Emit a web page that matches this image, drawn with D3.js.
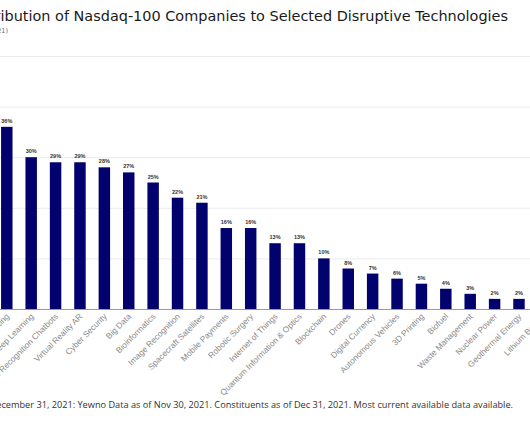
<!DOCTYPE html>
<html><head><meta charset="utf-8">
<script src="https://cdn.jsdelivr.net/npm/d3@7"></script>
<style>html,body{margin:0;padding:0;background:#fff;overflow:hidden}</style>
</head><body>
<svg id="c" width="530" height="443"></svg>
<script>
const categories = ["Cloud Computing","Deep Learning","Speech Recognition Chatbots","Virtual Reality AR","Cyber Security","Big Data","Bioinformatics","Image Recognition","Spacecraft Satellites","Mobile Payments","Robotic Surgery","Internet of Things","Quantum Information & Optics","Blockchain","Drones","Digital Currency","Autonomous Vehicles","3D Printing","Biofuel","Waste Management","Nuclear Power","Geothermal Energy","Lithium Battery","Solar Energy"];
const values = [36,30,29,29,28,27,25,22,21,16,16,13,13,10,8,7,6,5,4,3,2,2,2,1];
const gridTicks = [0,10,20,30,40,50];
const titleText = "Figure 1: Contribution of Nasdaq-100 Companies to Selected Disruptive Technologies";
const subtitleText = "(As of December 31, 2021)";
const footerText = "Source: Nasdaq Global Indexes, as of December 31, 2021: Yewno Data as of Nov 30, 2021. Constituents as of Dec 31, 2021. Most current available data available.";

const svg = d3.select("#c");
const step = 24.39, x0 = -5.4;
const x = d3.scaleBand().domain(categories).range([x0, x0 + step*categories.length]).paddingInner(0.53).paddingOuter(0.265);
const y = d3.scaleLinear().domain([0,50]).range([309,56]);

svg.append("g").selectAll("line").data(gridTicks.slice(1)).join("line")
  .attr("x1",0).attr("x2",530).attr("y1",d=>y(d)+0.5).attr("y2",d=>y(d)+0.5)
  .attr("stroke","#ebebeb").attr("stroke-width",1);

svg.append("g").selectAll("rect").data(values).join("rect")
  .attr("x",(d,i)=>x(categories[i])).attr("width",x.bandwidth())
  .attr("y",d=>y(d)).attr("height",d=>y(0)-y(d))
  .attr("fill","#02026e");

svg.append("line").attr("x1",0).attr("x2",530).attr("y1",y(0)+0.5).attr("y2",y(0)+0.5)
  .attr("stroke","#9a9a9a").attr("stroke-width",1);

svg.append("g").selectAll("text").data(values).join("text")
  .attr("x",(d,i)=>x(categories[i])+x.bandwidth()/2).attr("y",d=>y(d)-4)
  .attr("text-anchor","middle").attr("font-family","Liberation Sans, Arial, sans-serif")
  .attr("font-size",5.5).attr("font-weight","bold").attr("fill","#333")
  .text(d=>d+"%");

svg.append("g").selectAll("text").data(categories).join("text")
  .attr("transform",d=>`translate(${x(d)+x.bandwidth()/2+3},${317}) rotate(-45)`)
  .attr("text-anchor","end").attr("font-family","Liberation Sans, Arial, sans-serif")
  .attr("font-size",8.3).attr("fill","#8a8a8a").text(d=>d);

svg.append("text").attr("x",508).attr("y",21).attr("text-anchor","end")
  .attr("font-family","DejaVu Sans, sans-serif").attr("font-size",14.45).attr("fill","#1a1a1a").text(titleText);
svg.append("text").attr("x",8).attr("y",33).attr("text-anchor","end")
  .attr("font-family","DejaVu Sans, sans-serif").attr("font-size",6.5).attr("fill","#666").text(subtitleText);
svg.append("text").attr("x",513).attr("y",408).attr("text-anchor","end")
  .attr("font-family","Open Sans, sans-serif").attr("font-size",9.2).attr("fill","#333").text(footerText);
</script>
</body></html>
